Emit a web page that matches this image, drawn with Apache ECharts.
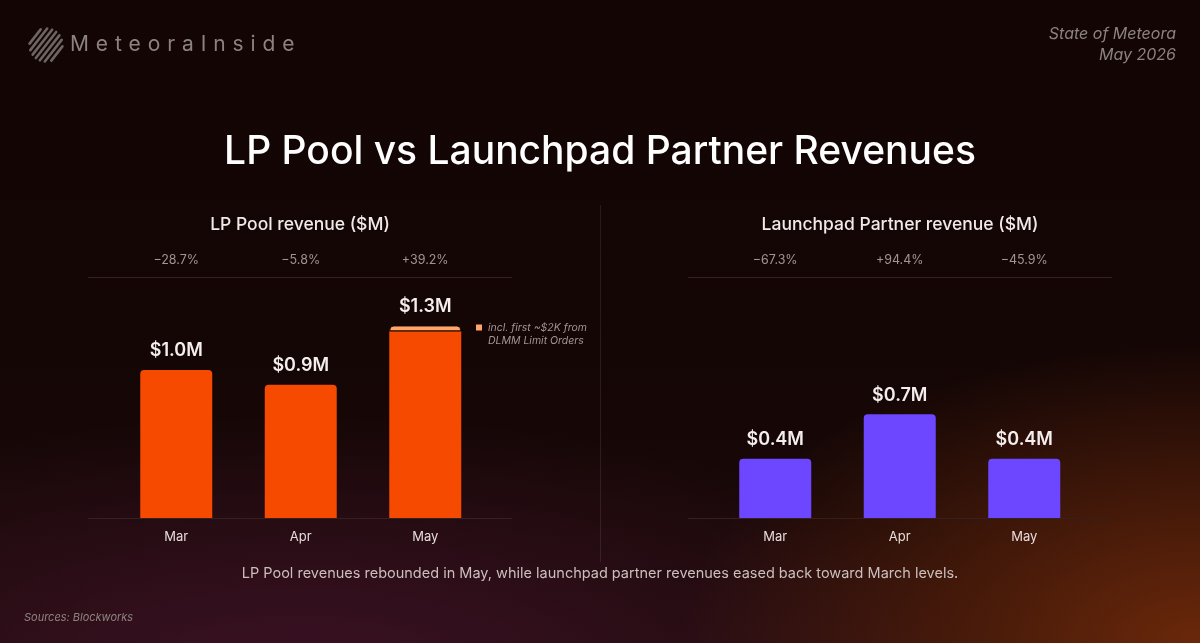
<!DOCTYPE html>
<html>
<head>
<meta charset="utf-8">
<script src="https://cdn.jsdelivr.net/npm/echarts@6/dist/echarts.min.js"></script>
<style>
    html, body { margin: 0; padding: 0; }
    body {
        width: 1200px; height: 643px; overflow: hidden; position: relative;
        background:
            radial-gradient(ellipse 520px 300px at 100% 100%, rgba(120, 45, 10, 0.85), rgba(120, 45, 10, 0) 100%),
            radial-gradient(ellipse 700px 260px at 25% 105%, rgba(70, 20, 45, 0.75), rgba(70, 20, 45, 0) 100%),
            linear-gradient(180deg, #120504 0%, #140605 55%, #1c0a0a 100%);
    }
    #chart { position: absolute; left: 0; top: 0; width: 1200px; height: 643px; }
    #brand {
        position: absolute; left: 70px; top: 31px;
        font-family: Inter, sans-serif; font-size: 21px; letter-spacing: 6.9px;
        color: #8c8280;
    }
</style>
</head>
<body>
<div id="chart"></div>
<div id="brand">MeteoraInside</div>
<script>
// 数据
var months = ['Mar', 'Apr', 'May'];
var lpTotal = [1.0, 0.90, 1.30];
var lpLimitOrders = [0, 0, 0.04];     // May 顶部那一小段
var lpChange = ['\u221228.7%', '\u22125.8%', '+39.2%'];
var lpNote = 'incl. first ~$2K from\nDLMM Limit Orders';

var launchTotal = [0.40, 0.70, 0.40];
var launchChange = ['\u221267.3%', '+94.4%', '\u221245.9%'];

var ORANGE = '#f54a00';
var CAP = '#ffa56a';
var PURPLE = '#6c47ff';
var BG = '#140605';
var LINE = '#34201e';

function money(v) {
    return '$' + v.toFixed(1) + 'M';
}

function labelCfg(show) {
    return {
        show: show,
        position: 'top',
        distance: 10,
        color: '#f4eeee',
        fontFamily: 'Inter',
        fontWeight: 600,
        fontSize: 18,
        formatter: function(p) { return money(p.data.total); }
    };
}

function makeMainData(totals, caps) {
    var arr = [];
    for (var i = 0; i < totals.length; i++) {
        var c = caps ? caps[i] : 0;
        arr.push({
            value: +(totals[i] - c).toFixed(3),
            total: totals[i],
            label: labelCfg(c == 0),
            itemStyle: { borderRadius: c == 0 ? [4, 4, 0, 0] : 0 }
        });
    }
    return arr;
}

function makeCapData(totals, caps) {
    var arr = [];
    for (var i = 0; i < caps.length; i++) {
        if (caps[i] > 0) {
            arr.push({ value: caps[i], total: totals[i], label: labelCfg(true) });
        } else {
            arr.push('-');
        }
    }
    return arr;
}

// 圆形条纹 logo
function logoStripes() {
    var cx = 46, cy = 45, r = 16.5;
    var kids = [];
    var ang = -52 * Math.PI / 180;
    var dx = Math.cos(ang), dy = Math.sin(ang);   // 条纹方向
    var nx = -dy, ny = dx;                         // 法线方向
    for (var k = -3; k <= 3; k++) {
        var off = k * 4.6;
        var half = Math.sqrt(Math.max(r * r - off * off, 0));
        if (half < 3) continue;
        var px = cx + nx * off, py = cy + ny * off;
        kids.push({
            type: 'line',
            shape: { x1: px - dx * half, y1: py - dy * half, x2: px + dx * half, y2: py + dy * half },
            style: { stroke: '#6e6462', lineWidth: 2.6, lineCap: 'round' }
        });
    }
    return { type: 'group', children: kids };
}

function txt(x, y, text, font, color, align) {
    return {
        type: 'text', silent: true,
        style: {
            text: text, x: x, y: y, fill: color, font: font,
            textAlign: align || 'center', textVerticalAlign: 'middle'
        }
    };
}

function hline(x1, x2, y) {
    return { type: 'line', shape: { x1: x1, y1: y, x2: x2, y2: y }, style: { stroke: LINE, lineWidth: 1 } };
}

var chart = echarts.init(document.getElementById('chart'), null, { renderer: 'canvas' });

var axisFont = { color: '#e6dcdb', fontSize: 13, fontFamily: 'Inter', margin: 13 };
var pctFont = { color: '#a19492', fontSize: 12.5, fontFamily: 'Inter', margin: 14 };

var option = {
    backgroundColor: 'transparent',
    animation: false,
    grid: [
        { left: 114, width: 373.5, top: 281, bottom: 125 },
        { left: 713, width: 373.5, top: 281, bottom: 125 }
    ],
    legend: {
        // 图标放在第一行旁边：路径里加一个看不见的点把高度撑开
        data: [{ name: lpNote, icon: 'path://M0,0h8v8h-8zM0,21h0.01' }],
        left: 474, top: 321, padding: 0,
        itemWidth: 8, itemHeight: 21, itemGap: 6,
        textStyle: { color: '#a39492', fontSize: 10.5, fontStyle: 'italic', fontFamily: 'Inter', lineHeight: 13 },
        selectedMode: false
    },
    xAxis: [
        {
            type: 'category', gridIndex: 0, data: months,
            axisLine: { show: false }, axisTick: { show: false }, axisLabel: axisFont
        },
        {
            type: 'category', gridIndex: 1, data: months,
            axisLine: { show: false }, axisTick: { show: false }, axisLabel: axisFont
        },
        {
            type: 'category', gridIndex: 0, data: lpChange, position: 'top',
            axisLine: { show: false }, axisTick: { show: false }, axisLabel: pctFont
        },
        {
            type: 'category', gridIndex: 1, data: launchChange, position: 'top',
            axisLine: { show: false }, axisTick: { show: false }, axisLabel: pctFont
        }
    ],
    yAxis: [
        { type: 'value', gridIndex: 0, min: 0, max: 1.6, show: false },
        { type: 'value', gridIndex: 1, min: 0, max: 1.6, show: false }
    ],
    series: [
        {
            name: 'LP Pool revenue', type: 'bar', stack: 'lp',
            xAxisIndex: 0, yAxisIndex: 0, barWidth: 72,
            itemStyle: { color: ORANGE },
            data: makeMainData(lpTotal, lpLimitOrders)
        },
        {
            name: lpNote, type: 'bar', stack: 'lp',
            xAxisIndex: 0, yAxisIndex: 0, barWidth: 72,
            itemStyle: { color: CAP, borderColor: BG, borderWidth: 1, borderRadius: [4, 4, 0, 0] },
            data: makeCapData(lpTotal, lpLimitOrders)
        },
        {
            name: 'Launchpad Partner revenue', type: 'bar',
            xAxisIndex: 1, yAxisIndex: 1, barWidth: 72,
            itemStyle: { color: PURPLE },
            data: makeMainData(launchTotal, null)
        }
    ],
    graphic: [
        logoStripes(),
        txt(1176, 34, 'State of Meteora', 'italic 400 16px Inter', '#8c8280', 'right'),
        txt(1176, 55, 'May 2026', 'italic 400 16px Inter', '#8c8280', 'right'),
        txt(600, 152, 'LP Pool vs Launchpad Partner Revenues', '500 39px Inter', '#ffffff'),
        txt(300, 225, 'LP Pool revenue ($M)', '500 17.5px Inter', '#f1eaea'),
        txt(900, 225, 'Launchpad Partner revenue ($M)', '500 17.5px Inter', '#f1eaea'),
        hline(88, 512, 277.5),
        hline(688, 1112, 277.5),
        hline(88, 512, 518.5),
        hline(688, 1112, 518.5),
        { type: 'line', shape: { x1: 600.5, y1: 205, x2: 600.5, y2: 562 }, style: { stroke: 'rgba(255,255,255,0.09)', lineWidth: 1 } },
        txt(600, 574, 'LP Pool revenues rebounded in May, while launchpad partner revenues eased back toward March levels.', '400 14.5px Inter', '#cbbfbd'),
        txt(24, 618, 'Sources: Blockworks', 'italic 400 11px Inter', '#8e8482', 'left')
    ]
};

chart.setOption(option);
</script>
</body>
</html>
